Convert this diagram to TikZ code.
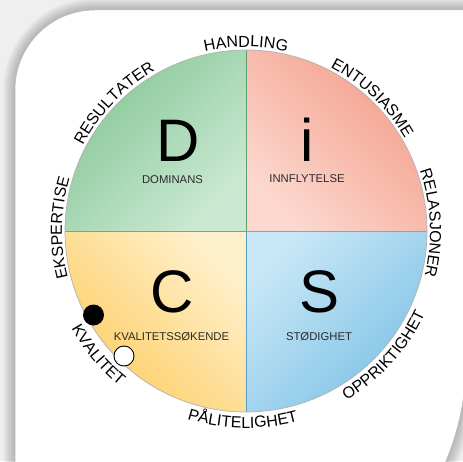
\documentclass[tikz,border=0pt]{standalone}
\usepackage{fontspec}
\setmainfont{Liberation Sans}
\usetikzlibrary{decorations.text}

\definecolor{pagebg}{HTML}{EFEFEF}
\definecolor{dgreen}{HTML}{86C797}
\definecolor{lgreen}{HTML}{CBE9D2}
\definecolor{bgreen}{HTML}{5E9E6E}
\definecolor{dsalmon}{HTML}{F39E8B}
\definecolor{lsalmon}{HTML}{FCD8CF}
\definecolor{bsalmon}{HTML}{D88A78}
\definecolor{dyellow}{HTML}{FDCD62}
\definecolor{lyellow}{HTML}{FFF0CC}
\definecolor{byellow}{HTML}{B8923F}
\definecolor{dblue}{HTML}{7DC2E5}
\definecolor{lblue}{HTML}{C9E7F6}
\definecolor{bblue}{HTML}{5B9DC4}
\definecolor{labelgray}{HTML}{2A2A2A}

\tikzset{
  cardshape/.style={insert path={(15,-40) -- (15,371)
      arc[start angle=180,end angle=90,radius=80] -- (466,451) -- (466,100)
      arc[start angle=0,end angle=-35,radius=259] -- cycle}},
  bigletter/.style={font=\fontsize{60}{60}\selectfont, anchor=base, inner sep=0pt},
  quadlabel/.style={font=\fontsize{11.3}{12}\selectfont, text=labelgray, anchor=base, inner sep=0pt},
  arclabel/.style={decorate, decoration={text along path, text align=center,
      text={|\fontsize{16}{16}\selectfont|#1}}},
  quadedge/.style={line width=0.7pt, draw=#1},
}

\begin{document}
\begin{tikzpicture}[x=1pt,y=1pt]
\useasboundingbox (0,0) rectangle (463,461);
\fill[pagebg] (0,0) rectangle (463,461);

% soft shadow of the card
\foreach \k in {1,...,12} {
  \draw[cardshape, line width=2*\k, draw=black, draw opacity=0.02];
}
\fill[white, cardshape];
\draw[cardshape, draw=gray!55, line width=0.5pt];

\coordinate (O) at (246,230);

% quadrants
\shade[top color=dgreen, middle color=dgreen!80!lgreen, bottom color=lgreen, shading angle=45]
  (O) -- (65,230) arc[start angle=180,end angle=90,radius=181] -- cycle;
\shade[top color=dsalmon, middle color=dsalmon!80!lsalmon, bottom color=lsalmon, shading angle=-45]
  (O) -- (246,411) arc[start angle=90,end angle=0,radius=181] -- cycle;
\shade[top color=lyellow, middle color=dyellow!80!lyellow, bottom color=dyellow, shading angle=-45]
  (O) -- (246,49) arc[start angle=270,end angle=180,radius=181] -- cycle;
\shade[top color=lblue, middle color=dblue!80!lblue, bottom color=dblue, shading angle=45]
  (O) -- (427,230) arc[start angle=0,end angle=-90,radius=181] -- cycle;

\draw[quadedge=bsalmon] (O) -- (427,230);
\draw[quadedge=bblue] (O) -- (246,49);
\draw[quadedge=byellow] (O) -- (65,230);
\draw[quadedge=bgreen] (O) -- (246,411);
\draw[gray!60, line width=0.7pt] (O) circle[radius=181];

% letters and names
\node[bigletter] (dl) at (178.5,299) {D};
\node[quadlabel] (dn) at (172.5,277) {DOMINANS};
\node[bigletter] (il) at (307,299) {i};
\node[quadlabel] (in) at (307,278) {INNFLYTELSE};
\node[bigletter] (cl) at (172.5,149) {C};
\node[quadlabel] (cn) at (171.5,121) {KVALITETSSØKENDE};
\node[bigletter] (sl) at (319.5,149) {S};
\node[quadlabel] (sn) at (319,121) {STØDIGHET};

% words around the circle
\begin{scope}[shift={(246,230)}]
\path[arclabel=HANDLING] (150:184) arc[start angle=150,end angle=30,radius=184];
\path[arclabel=ENTUSIASME] (106.5:184) arc[start angle=106.5,end angle=-13.5,radius=184];
\path[arclabel=RELASJONER] (62.5:184) arc[start angle=62.5,end angle=-57.5,radius=184];
\path[arclabel=RESULTATER] (196:184) arc[start angle=196,end angle=76,radius=184];
\path[arclabel=EKSPERTISE] (239:184) arc[start angle=239,end angle=119,radius=184];
\path[arclabel=OPPRIKTIGHET] (-102:197) arc[start angle=-102,end angle=18,radius=197];
\path[arclabel=PÅLITELIGHET] (-151:197) arc[start angle=-151,end angle=-31,radius=197];
\path[arclabel=KVALITET] (160:200) arc[start angle=160,end angle=280,radius=200];
\end{scope}

% markers
\node[circle, fill=black, minimum size=21pt, inner sep=0pt] (m1) at (93.5,146) {};
\node[circle, fill=white, draw=black, line width=0.9pt, minimum size=20pt, inner sep=0pt] (m2) at (124,105) {};
\end{tikzpicture}
\end{document}
